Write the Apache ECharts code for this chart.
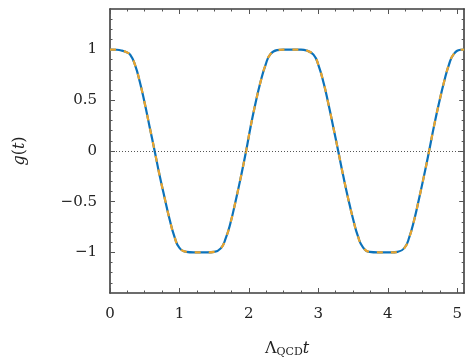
<!DOCTYPE html>
<html><head><meta charset="utf-8">
<script src="https://cdn.jsdelivr.net/npm/echarts@6/dist/echarts.min.js"></script>
<style>html,body{margin:0;padding:0;background:#fff}#c{width:465px;height:363px}</style>
</head><body><div id="c"></div>
<script>
// data
const tValues = [0, 0.1, 0.17, 0.23, 0.29, 0.36, 0.43, 0.5, 0.57, 0.643, 0.714, 0.786, 0.857, 0.93, 1.0, 1.1, 1.2, 1.3, 1.4, 1.5, 1.595, 1.667, 1.738, 1.81, 1.88, 1.96, 2.024, 2.095, 2.167, 2.24, 2.31, 2.405, 2.5, 2.62, 2.75, 2.83, 2.93, 3.0, 3.08, 3.143, 3.214, 3.286, 3.357, 3.43, 3.5, 3.57, 3.643, 3.74, 3.85, 3.95, 4.05, 4.14, 4.24, 4.31, 4.38, 4.45, 4.52, 4.595, 4.667, 4.74, 4.81, 4.88, 4.95, 5.05, 5.1];
const gSolid = [1, 0.998, 0.99, 0.975, 0.95, 0.85, 0.68, 0.47, 0.24, 0, -0.24, -0.46, -0.67, -0.85, -0.955, -0.995, -1, -1, -1, -0.995, -0.96, -0.86, -0.7, -0.49, -0.27, 0, 0.237, 0.47, 0.68, 0.85, 0.955, 0.995, 1, 1, 1, 0.99, 0.95, 0.85, 0.66, 0.47, 0.24, 0, -0.24, -0.47, -0.67, -0.84, -0.95, -0.995, -1, -1, -1, -0.995, -0.955, -0.85, -0.68, -0.47, -0.25, 0, 0.25, 0.48, 0.68, 0.85, 0.955, 0.998, 1.0];
const gDashed = gSolid.slice();
const xMajor = [0, 1, 2, 3, 4, 5];
const xMinor = [0.25,0.5,0.75,1.25,1.5,1.75,2.25,2.5,2.75,3.25,3.5,3.75,4.25,4.5,4.75];
const yMajor = [-1, -0.5, 0, 0.5, 1];
const yMinor = [-1.3,-1.2,-1.1,-0.9,-0.8,-0.7,-0.6,-0.4,-0.3,-0.2,-0.1,0.1,0.2,0.3,0.4,0.6,0.7,0.8,0.9,1.1,1.2,1.3];

const FONT = '"DejaVu Serif", "Liberation Serif", serif';
const AX = '#3c3c3c';
const pairs = a => tValues.map((t, i) => [t, a[i]]);
const fmtNum = v => (v < 0 ? '\u2212' + Math.abs(v) : String(v));

function xAx(pos, ticks, len, showLine, showLabel, extra) {
  return Object.assign({
    type: 'value', position: pos, min: 0, max: 5.1, interval: 1,
    axisLine: { show: showLine, onZero: false, lineStyle: { color: AX, width: 1.6 } },
    axisTick: { show: true, inside: true, length: len, customValues: ticks, lineStyle: { color: '#555', width: 1 } },
    axisLabel: { show: showLabel, customValues: xMajor, formatter: fmtNum, fontFamily: FONT, fontSize: 15, color: '#222', margin: 14 },
    splitLine: { show: false }
  }, extra || {});
}
function yAx(pos, ticks, len, showLine, showLabel, extra) {
  return Object.assign({
    type: 'value', position: pos, min: -1.4, max: 1.4, interval: 0.1,
    axisLine: { show: showLine, onZero: false, lineStyle: { color: AX, width: 1.6 } },
    axisTick: { show: true, inside: true, length: len, customValues: ticks, lineStyle: { color: '#555', width: 1 } },
    axisLabel: { show: showLabel, customValues: yMajor, formatter: fmtNum, fontFamily: FONT, fontSize: 15, color: '#222', margin: 13 },
    splitLine: { show: false }
  }, extra || {});
}

const chart = echarts.init(document.getElementById('c'), null, { renderer: 'canvas' });
chart.setOption({
  animation: false,
  backgroundColor: '#fff',
  grid: { left: 110, top: 9, width: 357, height: 287 },
  xAxis: [
    xAx('bottom', xMajor, 5, true, true, {
      name: '{L|\u039B}{s|QCD}{i|t}', nameLocation: 'middle', nameGap: 46,
      nameTextStyle: { rich: {
        L: { fontFamily: FONT, fontSize: 16, color: '#222' },
        s: { fontFamily: FONT, fontSize: 11, color: '#222', padding: [8, 0, 0, 0] },
        i: { fontFamily: FONT, fontSize: 16, fontStyle: 'italic', color: '#222' }
      } }
    }),
    xAx('bottom', xMinor, 2.5, false, false),
    xAx('top', xMajor, 5, true, false),
    xAx('top', xMinor, 2.5, false, false)
  ],
  yAxis: [
    yAx('left', yMajor, 5, true, true, {
      name: '{i|g}{n|(}{i|t}{n|)}', nameLocation: 'middle', nameGap: 82, nameRotate: 90,
      nameTextStyle: { rich: {
        i: { fontFamily: FONT, fontSize: 16, fontStyle: 'italic', color: '#222' },
        n: { fontFamily: FONT, fontSize: 16, color: '#222' }
      } }
    }),
    yAx('left', yMinor, 2.5, false, false),
    yAx('right', yMajor, 5, true, false),
    yAx('right', yMinor, 2.5, false, false)
  ],
  series: [
    {
      type: 'line', data: pairs(gSolid), smooth: 0.5, showSymbol: false,
      lineStyle: { color: '#0c72ba', width: 2.2 }, z: 3,
      markLine: { silent: true, symbol: 'none', label: { show: false },
        lineStyle: { color: '#555', type: [1, 2], width: 1 }, data: [{ yAxis: 0 }] }
    },
    {
      type: 'line', data: pairs(gDashed), smooth: 0.5, showSymbol: false,
      lineStyle: { color: '#eba52c', width: 2.2, type: [6, 8] }, z: 4
    }
  ]
});
</script></body></html>
